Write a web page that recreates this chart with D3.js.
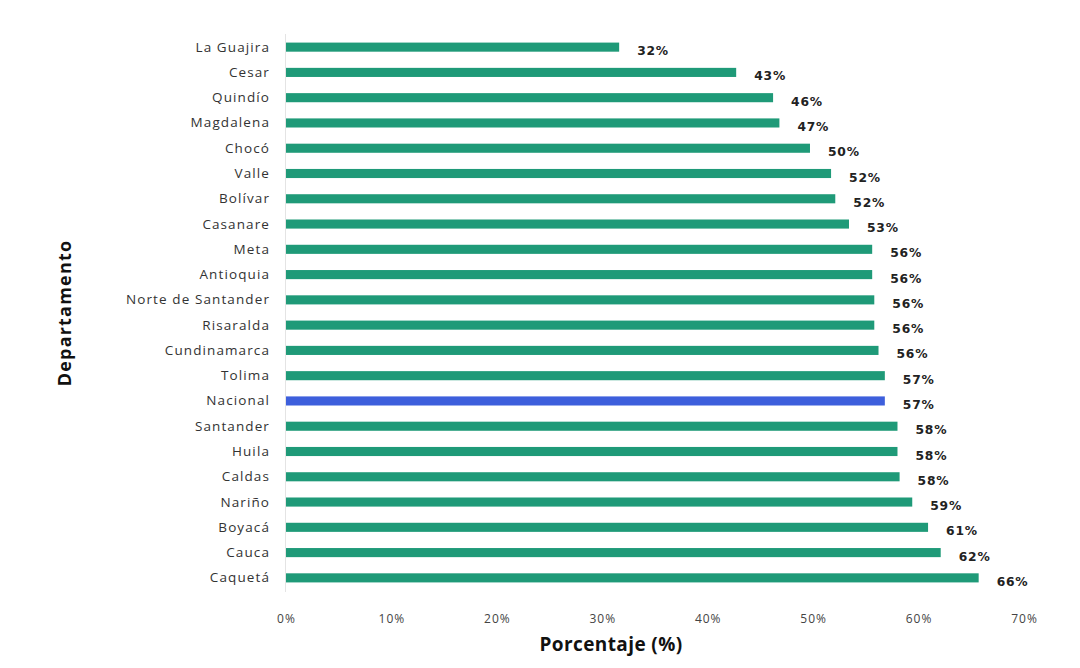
<!DOCTYPE html>
<html><head><meta charset="utf-8">
<script src="https://cdn.jsdelivr.net/npm/d3@7"></script>
<style>body{margin:0;background:#fff;}svg{display:block;}</style>
</head><body>
<svg id="c" width="1080" height="668"></svg>
<script>
const categories = ["La Guajira","Cesar","Quindío","Magdalena","Chocó","Valle","Bolívar","Casanare","Meta","Antioquia","Norte de Santander","Risaralda","Cundinamarca","Tolima","Nacional","Santander","Huila","Caldas","Nariño","Boyacá","Cauca","Caquetá"];
const values = [31.6,42.7,46.2,46.8,49.7,51.7,52.1,53.4,55.6,55.6,55.8,55.8,56.2,56.8,56.8,58.0,58.0,58.2,59.4,60.9,62.1,65.7];
const labels = ["32%","43%","46%","47%","50%","52%","52%","53%","56%","56%","56%","56%","56%","57%","57%","58%","58%","58%","59%","61%","62%","66%"];
const ticks = [0,10,20,30,40,50,60,70];
const highlight = "Nacional";

const svg = d3.select("#c");
const x = d3.scaleLinear().domain([0,70]).range([286,1024]);
const y = d3.scaleBand().domain(categories).range([34.5,590.5]).paddingInner(0.64).paddingOuter(0.32);

svg.append("line").attr("x1",285.5).attr("x2",285.5).attr("y1",34).attr("y2",592).attr("stroke","#e4e4e4").attr("stroke-width",1);

svg.append("g").selectAll("rect").data(categories).join("rect")
  .attr("x",x(0)).attr("y",d=>y(d)).attr("height",y.bandwidth())
  .attr("width",(d,i)=>x(values[i])-x(0))
  .attr("fill",d=>d===highlight?"#3d5fdc":"#1f9a78");

svg.append("g").selectAll("text").data(categories).join("text")
  .attr("x",(d,i)=>x(values[i])+18).attr("y",d=>y(d)+y.bandwidth()/2+8)
  .attr("font-family","'DejaVu Sans', sans-serif").attr("font-size",12.3).attr("font-weight","bold")
  .attr("letter-spacing",0.8).attr("fill","#222").text((d,i)=>labels[i]);

svg.append("g").selectAll("text").data(categories).join("text")
  .attr("x",270).attr("y",d=>y(d)+y.bandwidth()/2+4.5).attr("text-anchor","end")
  .attr("font-family","'Open Sans', sans-serif").attr("font-size",13.5).attr("letter-spacing",1.1).attr("fill","#333")
  .text(d=>d);

const xa = svg.append("g").attr("transform","translate(0,623)")
  .call(d3.axisBottom(x).tickValues(ticks).tickFormat(d=>d+"%").tickSize(0).tickPadding(0));
xa.select(".domain").remove();
xa.selectAll("text").attr("font-family","'Open Sans', sans-serif").attr("font-size",12).attr("letter-spacing",1)
  .attr("fill","#444").attr("dy","0");

svg.append("text").attr("x",611).attr("y",651).attr("text-anchor","middle")
  .attr("font-family","'Open Sans', sans-serif").attr("font-size",19).attr("font-weight","bold").attr("letter-spacing",0.4).attr("fill","#111")
  .text("Porcentaje (%)");
svg.append("text").attr("transform","translate(71,313) rotate(-90)").attr("text-anchor","middle")
  .attr("font-family","'Open Sans', sans-serif").attr("font-size",18).attr("font-weight","bold").attr("letter-spacing",1.2).attr("fill","#111")
  .text("Departamento");
</script>
</body></html>
